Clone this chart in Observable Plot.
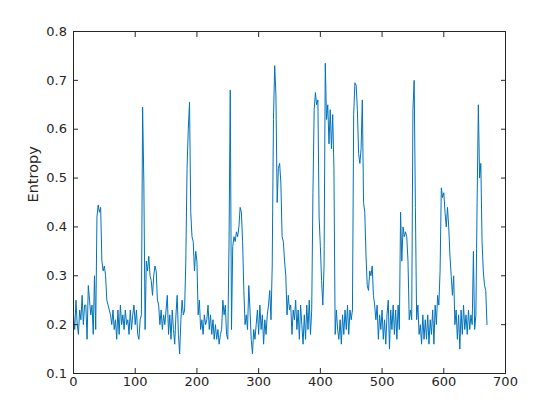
<!DOCTYPE html>
<html><head><meta charset="utf-8">
<script src="https://cdn.jsdelivr.net/npm/d3@7"></script>
<script src="https://cdn.jsdelivr.net/npm/@observablehq/plot@0.6"></script>
<style>body{margin:0;background:#fff}</style>
</head><body><div id="chart"></div>
<script>
// sample spacing along the x axis (one value every 2 units, starting at 0)
const xStep = 2;
const entropy = [
0.22,0.19,0.25,0.20,0.18,0.23,0.21,0.26,0.20,0.24,
0.24,0.17,0.28,0.25,0.22,0.24,0.18,0.30,0.19,0.42,
0.445,0.43,0.44,0.33,0.31,0.32,0.30,0.25,0.24,0.23,
0.22,0.20,0.23,0.19,0.21,0.17,0.23,0.18,0.24,0.20,
0.22,0.19,0.23,0.20,0.21,0.18,0.23,0.19,0.22,0.24,
0.20,0.23,0.18,0.17,0.21,0.22,0.645,0.49,0.19,0.33,
0.31,0.34,0.30,0.29,0.26,0.30,0.32,0.31,0.25,0.24,
0.20,0.23,0.19,0.22,0.20,0.23,0.26,0.18,0.22,0.17,
0.23,0.19,0.16,0.22,0.26,0.18,0.14,0.21,0.25,0.22,
0.23,0.33,0.52,0.60,0.655,0.43,0.38,0.37,0.31,0.35,
0.33,0.22,0.25,0.19,0.21,0.18,0.22,0.20,0.21,0.24,
0.19,0.22,0.18,0.21,0.17,0.20,0.17,0.19,0.16,0.18,
0.19,0.25,0.22,0.24,0.18,0.17,0.365,0.68,0.19,0.36,
0.38,0.37,0.39,0.38,0.40,0.44,0.43,0.37,0.27,0.20,
0.22,0.19,0.28,0.23,0.17,0.14,0.19,0.17,0.20,0.23,
0.18,0.24,0.19,0.22,0.16,0.21,0.18,0.22,0.24,0.27,
0.21,0.32,0.62,0.73,0.67,0.45,0.52,0.53,0.49,0.38,
0.37,0.33,0.30,0.22,0.26,0.23,0.24,0.18,0.23,0.21,
0.25,0.19,0.23,0.17,0.24,0.20,0.16,0.22,0.17,0.24,
0.19,0.25,0.18,0.23,0.47,0.64,0.675,0.65,0.66,0.42,
0.36,0.29,0.24,0.32,0.735,0.62,0.65,0.57,0.64,0.56,
0.63,0.52,0.18,0.23,0.19,0.17,0.21,0.16,0.22,0.18,
0.23,0.19,0.24,0.18,0.23,0.21,0.23,0.63,0.695,0.69,
0.64,0.55,0.53,0.56,0.66,0.45,0.43,0.34,0.28,0.27,
0.31,0.30,0.32,0.26,0.24,0.21,0.24,0.17,0.22,0.19,
0.23,0.17,0.21,0.16,0.22,0.25,0.15,0.23,0.19,0.24,
0.18,0.23,0.17,0.24,0.19,0.43,0.33,0.40,0.38,0.39,
0.38,0.33,0.21,0.23,0.21,0.64,0.70,0.44,0.21,0.24,
0.18,0.20,0.16,0.22,0.17,0.21,0.17,0.22,0.16,0.21,
0.18,0.23,0.16,0.24,0.20,0.26,0.24,0.31,0.48,0.46,
0.47,0.43,0.40,0.44,0.40,0.34,0.30,0.26,0.30,0.20,
0.23,0.17,0.22,0.15,0.23,0.18,0.24,0.19,0.22,0.18,
0.23,0.19,0.22,0.20,0.35,0.19,0.22,0.45,0.65,0.50,
0.53,0.37,0.31,0.28,0.27,0.20
];
const xTicks = [0,100,200,300,400,500,600,700];
const yTicks = [0.1,0.2,0.3,0.4,0.5,0.6,0.7,0.8];
const yLabel = "Entropy";

const data = entropy.map((v,i)=>({t:i*xStep, e:v}));
const axisColor = "#262626";
const lineColor = "#0072BD";

const chart = Plot.plot({
  width:560, height:420,
  marginLeft:73, marginRight:55, marginTop:31, marginBottom:47,
  style:{fontFamily:"'DejaVu Sans', sans-serif", fontSize:"13px", color:axisColor, background:"#fff"},
  x:{domain:[0,700]},
  y:{domain:[0.1,0.8]},
  marks:[
    Plot.line(data,{x:"t",y:"e",stroke:lineColor,strokeWidth:1}),
    Plot.frame({stroke:axisColor, strokeWidth:1}),
    Plot.axisX(xTicks,{anchor:"bottom",tickSize:-5,tickPadding:8,label:null}),
    Plot.axisX(xTicks,{anchor:"top",tickSize:-5,tickFormat:()=>"",label:null}),
    Plot.axisY(yTicks,{anchor:"left",tickSize:-5,tickPadding:11.5,label:null,tickFormat:d3.format(".1f")}),
    Plot.axisY(yTicks,{anchor:"right",tickSize:-5,tickFormat:()=>"",label:null}),
    Plot.text([yLabel],{frameAnchor:"left",dx:-40,rotate:-90,fontSize:14.5,fill:axisColor})
  ]
});
document.getElementById("chart").appendChild(chart);
</script>
</body></html>
